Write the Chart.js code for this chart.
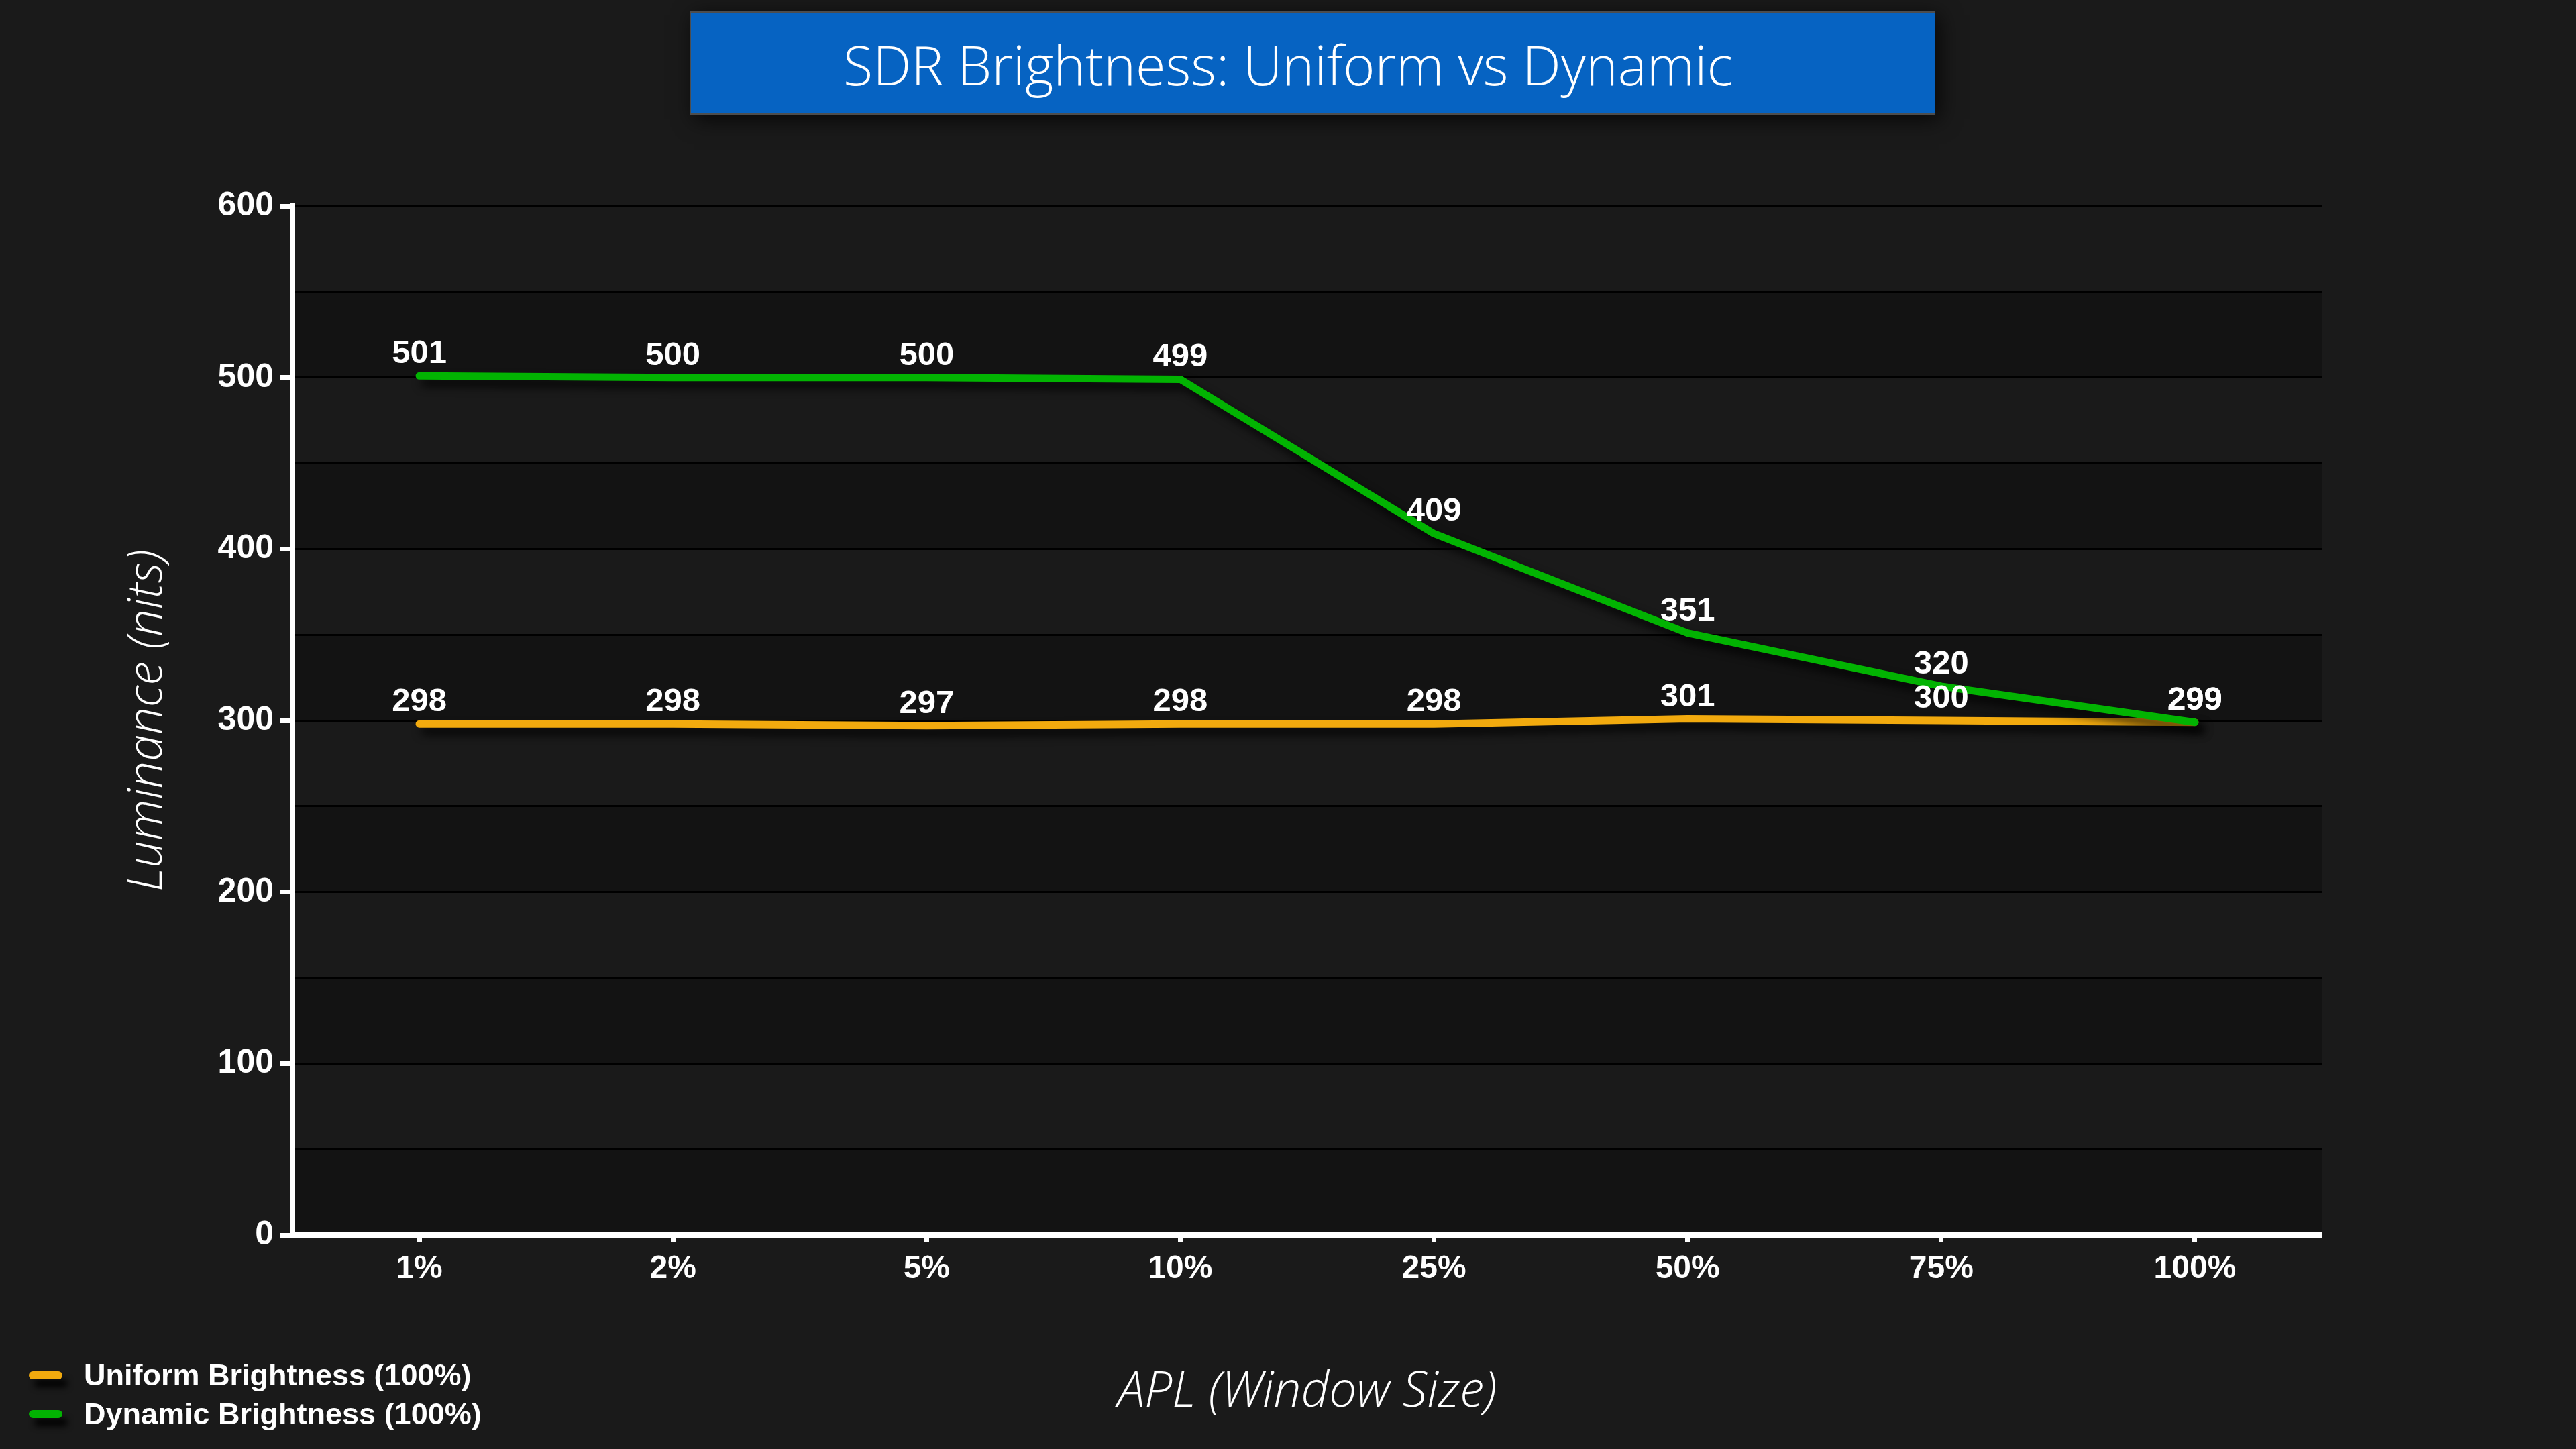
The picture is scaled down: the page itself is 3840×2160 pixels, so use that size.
<!DOCTYPE html>
<html><head><meta charset="utf-8">
<script src="https://cdn.jsdelivr.net/npm/chart.js@4.4.0/dist/chart.umd.min.js"></script>
<style>
html,body{margin:0;padding:0;background:#1a1a1a;overflow:hidden;}
#wrap{position:relative;width:3840px;height:2160px;}
#c{position:absolute;left:0;top:0;}
#legend{position:absolute;left:43px;top:2021px;font:bold 45px "Liberation Sans",Arial,sans-serif;color:#fff;z-index:2;}
.item{display:flex;align-items:center;height:58px;white-space:nowrap;}
.sw{width:50px;height:12px;border-radius:6px;margin-right:32px;box-shadow:8px 12px 10px rgba(0,0,0,0.9);}
</style></head><body>
<div id="wrap"><canvas id="c" width="3840" height="2160"></canvas><div id="legend"></div></div>
<script>
const categories = ['1%','2%','5%','10%','25%','50%','75%','100%'];
const uniformValues = [298,298,297,298,298,301,300,299];
const dynamicValues = [501,500,500,499,409,351,320,299];
const seriesNames = ['Uniform Brightness (100%)','Dynamic Brightness (100%)'];
const seriesColors = ['#f2aa0e','#02b302'];
const yTickValues = [0,100,200,300,400,500,600];
const chartTitle = 'SDR Brightness: Uniform vs Dynamic';
const xTitle = 'APL (Window Size)';
const yTitle = 'Luminance (nits)';

const bgPlugin = {
  id:'bg',
  beforeDraw(chart, args, opts){
    const {ctx, chartArea:a} = chart;
    const y = chart.scales.y;
    ctx.save();
    ctx.fillStyle = '#1a1a1a';
    ctx.fillRect(0,0,chart.width,chart.height);
    ctx.fillStyle = '#131313';
    y.ticks.forEach((t,i)=>{
      if(i < y.ticks.length-1 && i%2===0){
        const y0 = y.getPixelForValue(t.value), y1 = y.getPixelForValue(y.ticks[i+1].value);
        ctx.fillRect(a.left, y1, a.right-a.left, y0-y1);
      }
    });
    const b = opts.box;
    ctx.shadowColor='rgba(0,0,0,0.75)'; ctx.shadowBlur=30; ctx.shadowOffsetX=6; ctx.shadowOffsetY=6;
    ctx.fillStyle='#4d4d4d'; ctx.fillRect(b.x,b.y,b.w,b.h);
    ctx.shadowColor='rgba(0,0,0,0)';
    ctx.fillStyle='#0663c2'; ctx.fillRect(b.x+1,b.y+3,b.w-2,b.h-6);
    ctx.restore();
  }
};
const shadowPlugin = {
  id:'lineShadow',
  beforeDatasetDraw(chart){ const c=chart.ctx; c.save(); c.shadowColor='rgba(0,0,0,0.85)'; c.shadowBlur=14; c.shadowOffsetX=8; c.shadowOffsetY=10; },
  afterDatasetDraw(chart){ chart.ctx.restore(); }
};
const labelPlugin = {
  id:'valueLabels',
  afterDatasetsDraw(chart){
    const ctx = chart.ctx;
    ctx.save();
    ctx.font = 'bold 49px "Liberation Sans", Arial, sans-serif';
    ctx.fillStyle = '#fff';
    ctx.textAlign = 'center';
    ctx.textBaseline = 'alphabetic';
    chart.data.datasets.forEach((ds,di)=>{
      const meta = chart.getDatasetMeta(di);
      meta.data.forEach((pt,i)=>{ ctx.fillText(String(ds.data[i]), pt.x, pt.y-19); });
    });
    ctx.restore();
  }
};

const chart = new Chart(document.getElementById('c'), {
  type:'line',
  data:{labels:categories, datasets:[
    {label:seriesNames[0], data:uniformValues, borderColor:seriesColors[0], backgroundColor:seriesColors[0], borderWidth:11, pointRadius:0, tension:0, borderCapStyle:'round', borderJoinStyle:'round', order:2},
    {label:seriesNames[1], data:dynamicValues, borderColor:seriesColors[1], backgroundColor:seriesColors[1], borderWidth:11, pointRadius:0, tension:0, borderCapStyle:'round', borderJoinStyle:'round', order:1}
  ]},
  options:{
    responsive:false, devicePixelRatio:1, animation:false,
    layout:{padding:{left:0,right:0,top:0,bottom:0}},
    plugins:{
      legend:{display:false}, tooltip:{enabled:false},
      title:{display:true, text:chartTitle, color:'#fff', font:{family:'"Open Sans"', size:81, weight:300}, padding:{top:55,bottom:155}},
      bg:{box:{x:1029,y:17,w:1856,h:155}}
    },
    scales:{
      x:{
        offset:true,
        grid:{drawOnChartArea:false, drawTicks:true, tickLength:10, tickWidth:7, tickColor:'#fff'},
        border:{display:true, color:'#fff', width:8},
        ticks:{color:'#fff', font:{family:'"Liberation Sans"', weight:'bold', size:48}, padding:12},
        title:{display:true, text:xTitle, color:'#fff', font:{family:'"Open Sans"', style:'italic', weight:300, size:73}, padding:{top:0,bottom:40}},
        afterFit(s){ s.height = 319; }
      },
      y:{
        min:0, max:600,
        ticks:{stepSize:50, color:'#fff', font:{family:'"Liberation Sans"', weight:'bold', size:50}, padding:10,
          callback:(v)=> yTickValues.includes(v) ? String(v) : ''},
        grid:{color:'#000', lineWidth:3, drawTicks:true, tickLength:18, tickWidth:7,
          tickColor:(c)=> (c.tick && yTickValues.includes(c.tick.value)) ? '#fff' : 'rgba(0,0,0,0)'},
        border:{display:true, color:'#fff', width:8},
        title:{display:true, text:yTitle, color:'#fff', font:{family:'"Open Sans"', style:'italic', weight:300, size:72}, padding:{top:177,bottom:0}},
        afterFit(s){ s.width = 436; }
      },
      yRight:{
        position:'right', display:true, min:0, max:600,
        grid:{display:false, drawTicks:false}, border:{display:false},
        ticks:{display:false},
        afterFit(s){ s.width = 379; }
      }
    }
  },
  plugins:[bgPlugin, shadowPlugin, labelPlugin]
});

const leg = document.getElementById('legend');
chart.data.datasets.forEach(ds=>{
  const item = document.createElement('div'); item.className='item';
  const sw = document.createElement('span'); sw.className='sw'; sw.style.background = ds.borderColor;
  const tx = document.createElement('span'); tx.textContent = ds.label;
  item.appendChild(sw); item.appendChild(tx); leg.appendChild(item);
});
</script>
</body></html>
